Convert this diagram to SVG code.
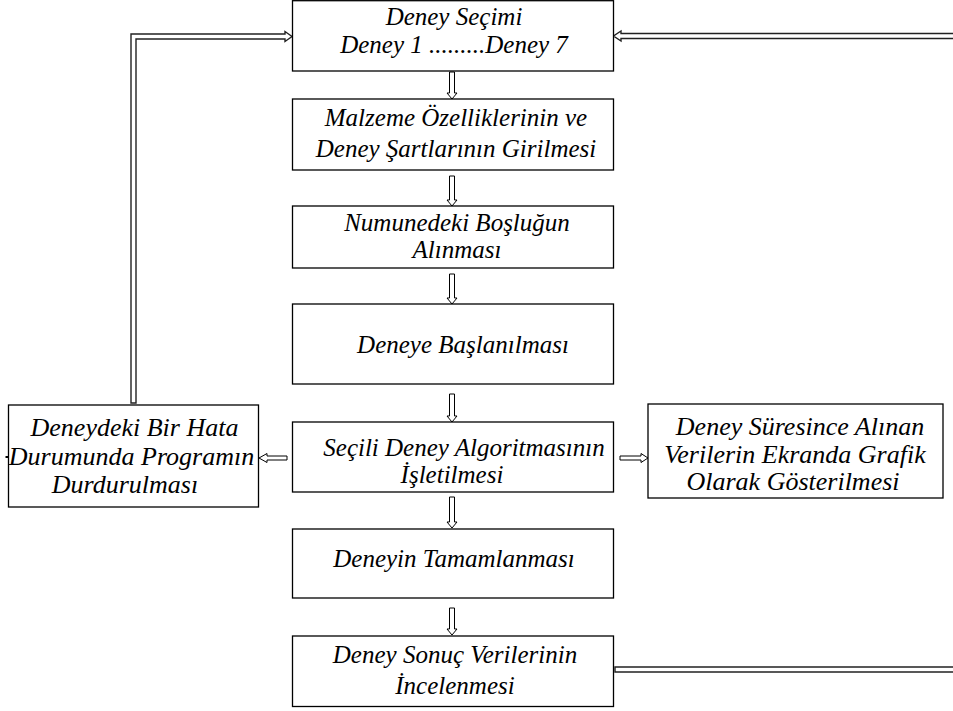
<svg xmlns="http://www.w3.org/2000/svg" width="953" height="711" viewBox="0 0 953 711">
<style>
.box{fill:#fff;stroke:#000;stroke-width:1.3}
.t{font-family:'Liberation Serif','Times New Roman',serif;font-style:italic;font-size:25px;fill:#000;text-anchor:middle}
.s{font-size:26px}
.arr{fill:#fff;stroke:#000;stroke-width:1}
.dbl{fill:#fff;stroke:#222;stroke-width:1.4}
</style>
<rect width="953" height="711" fill="#fff"/>
<g id="connectors">
<polygon class="arr" points="449.5,72 454.5,72 454.5,93 457,93 452,99 447,93 449.5,93"/>
<polygon class="arr" points="449.5,176 454.5,176 454.5,200 457,200 452,206 447,200 449.5,200"/>
<polygon class="arr" points="449.5,274 454.5,274 454.5,298 457,298 452,304 447,298 449.5,298"/>
<polygon class="arr" points="449.5,394 454.5,394 454.5,416 457,416 452,422 447,416 449.5,416"/>
<polygon class="arr" points="449.5,497 454.5,497 454.5,522 457,522 452,528 447,522 449.5,522"/>
<polygon class="arr" points="449.5,608 454.5,608 454.5,629 457,629 452,635 447,629 449.5,629"/>
<polygon class="arr" points="287,456 267,456 267,453.5 259,458 267,462.5 267,460 287,460"/>
<polygon class="arr" points="620,456 641,456 641,453.5 648,458 641,462.5 641,460 620,460"/>
<polygon class="dbl" points="131,403 131,34 285,34 285,31.5 292,36.5 285,41.5 285,39 136,39 136,403"/>
<polygon class="dbl" points="955,33.5 621,33.5 621,31 613.5,36 621,41 621,38.5 955,38.5"/>
<polyline class="dbl" points="955,667 615,667 615,672 955,672" stroke-width="1.6"/>
<line x1="5.5" y1="457" x2="9" y2="457" stroke="#000" stroke-width="2"/>
</g>
<g id="n1"><rect class="box" x="292.5" y="0.7" width="321" height="70.3"/>
<text class="t" x="454" y="25">Deney Seçimi</text>
<text class="t" x="454" y="53">Deney 1 .........Deney 7</text></g>
<g id="n2"><rect class="box" x="292.5" y="99" width="321" height="71"/>
<text class="t" x="456" y="126">Malzeme Özelliklerinin ve</text>
<text class="t" x="456" y="157">Deney Şartlarının Girilmesi</text></g>
<g id="n3"><rect class="box" x="292.5" y="206" width="321" height="62"/>
<text class="t" x="457" y="231">Numunedeki Boşluğun</text>
<text class="t" x="457" y="258">Alınması</text></g>
<g id="n4"><rect class="box" x="292.5" y="304" width="321" height="80"/>
<text class="t" x="463" y="353">Deneye Başlanılması</text></g>
<g id="n5"><rect class="box" x="292.5" y="422" width="321" height="70"/>
<text class="t" x="464" y="456">Seçili Deney Algoritmasının</text>
<text class="t" x="452" y="483">İşletilmesi</text></g>
<g id="n6"><rect class="box" x="292.5" y="529" width="321" height="69"/>
<text class="t" x="454" y="567">Deneyin Tamamlanması</text></g>
<g id="n7"><rect class="box" x="292.5" y="636" width="321" height="70.5"/>
<text class="t" x="455" y="663">Deney Sonuç Verilerinin</text>
<text class="t" x="455" y="694">İncelenmesi</text></g>
<g id="n8"><rect class="box" x="8.5" y="405" width="250" height="102"/>
<text class="t s" x="134.5" y="436">Deneydeki Bir Hata</text>
<text class="t s" x="131.5" y="465">Durumunda Programın</text>
<text class="t s" x="125" y="493">Durdurulması</text></g>
<g id="n9"><rect class="box" x="648" y="404" width="295" height="94"/>
<text class="t s" x="800" y="435">Deney Süresince Alınan</text>
<text class="t s" x="795" y="463">Verilerin Ekranda Grafik</text>
<text class="t s" x="793" y="490">Olarak Gösterilmesi</text></g>
</svg>
